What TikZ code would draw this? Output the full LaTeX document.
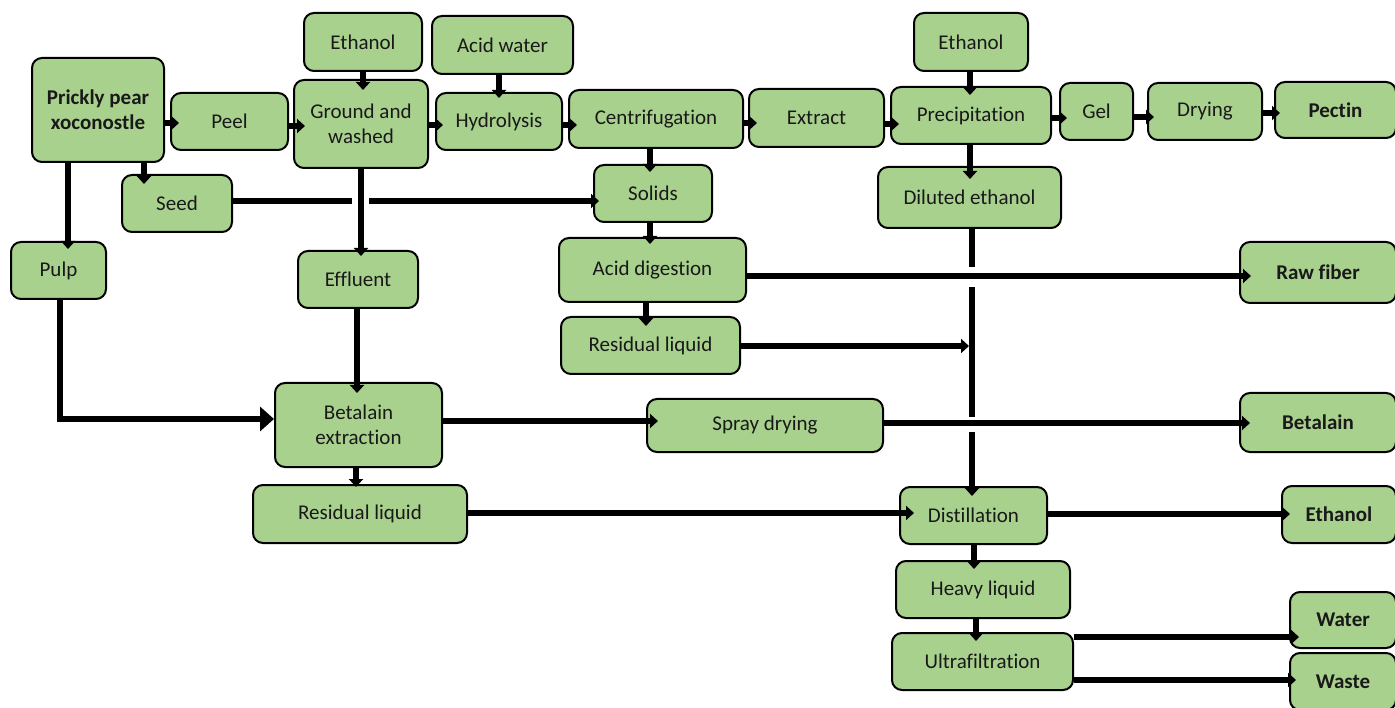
\documentclass[tikz,border=0pt]{standalone}
\usepackage{fontspec}
\setmainfont{Carlito}[Ligatures={NoCommon}]
\usetikzlibrary{arrows.meta}
\definecolor{boxgreen}{HTML}{A9D18E}
\begin{document}
\begin{tikzpicture}[x=1pt,y=-1pt,
  box/.style={draw=black, line width=2pt, fill=boxgreen, rounded corners=10pt, align=center, inner sep=0pt, text=black!90, font=\fontsize{21}{25}\selectfont},
  bbox/.style={box, font=\fontsize{21}{25}\selectfont\bfseries},
  conn/.style={line width=6pt, draw=black},
  arr/.style={conn, -{Triangle[width=14pt,length=8pt]}, shorten >=-9pt},
  bigarr/.style={conn, -{Triangle[width=24pt,length=14pt]}},
]
\useasboundingbox (0,0) rectangle (1395,708);

% nodes
\node[bbox, minimum width=132pt, minimum height=104pt] (pp) at (98,110) {Prickly pear\\xoconostle};
\node[box, minimum width=117pt, minimum height=57pt] (peel) at (229.5,121.5) {Peel};
\node[box, minimum width=134pt, minimum height=88pt] (gw) at (361,124) {Ground and\\washed};
\node[box, minimum width=118pt, minimum height=58pt] (eth1) at (363,42) {Ethanol};
\node[box, minimum width=141pt, minimum height=58pt] (acid) at (502.5,45) {Acid water};
\node[box, minimum width=126pt, minimum height=57pt] (hyd) at (499,121.5) {Hydrolysis};
\node[box, minimum width=174pt, minimum height=58pt] (cen) at (656,119) {Centrifugation};
\node[box, minimum width=135pt, minimum height=58pt] (ext) at (816.5,118) {Extract};
\node[box, minimum width=160pt, minimum height=57pt] (pre) at (971,115.5) {Precipitation};
\node[box, minimum width=114pt, minimum height=58pt] (eth2) at (971,42) {Ethanol};
\node[box, minimum width=73pt, minimum height=57pt] (gel) at (1096.5,111.5) {Gel};
\node[box, minimum width=114pt, minimum height=57pt] (dry) at (1205,111.5) {Drying};
\node[bbox, minimum width=121pt, minimum height=56pt] (pectin) at (1335.5,110) {Pectin};
\node[box, minimum width=183pt, minimum height=61pt] (dil) at (969.5,197.5) {Diluted ethanol};
\node[box, minimum width=110pt, minimum height=57pt] (seed) at (177,203.5) {Seed};
\node[box, minimum width=118pt, minimum height=57pt] (solids) at (653,193.5) {Solids};
\node[box, minimum width=95pt, minimum height=57pt] (pulp) at (58.5,270.5) {Pulp};
\node[box, minimum width=120pt, minimum height=57pt] (eff) at (358,279.5) {Effluent};
\node[box, minimum width=187pt, minimum height=64pt] (acd) at (652.5,270) {Acid digestion};
\node[bbox, minimum width=156pt, minimum height=61pt] (raw) at (1318,272.5) {Raw fiber};
\node[box, minimum width=179pt, minimum height=57pt] (res1) at (650.5,345.5) {Residual liquid};
\node[box, minimum width=167pt, minimum height=84pt] (bext) at (358.5,425) {Betalain\\extraction};
\node[box, minimum width=236pt, minimum height=53pt] (spray) at (765,425.5) {Spray drying};
\node[bbox, minimum width=156pt, minimum height=59pt] (bet) at (1318,422.5) {Betalain};
\node[box, minimum width=214pt, minimum height=58pt] (res2) at (360,514) {Residual liquid};
\node[box, minimum width=147pt, minimum height=57pt] (dist) at (973.5,515.5) {Distillation};
\node[bbox, minimum width=114pt, minimum height=57pt] (eth3) at (1339,514.5) {Ethanol};
\node[box, minimum width=174pt, minimum height=57pt] (heavy) at (983,589.5) {Heavy liquid};
\node[box, minimum width=181pt, minimum height=57pt] (ultra) at (982.5,661.5) {Ultrafiltration};
\node[bbox, minimum width=106pt, minimum height=56pt] (water) at (1343,620) {Water};
\node[bbox, minimum width=106pt, minimum height=57pt] (waste) at (1343,681.5) {Waste};

% top row
\draw[arr] (pp.east |- 0,123) -- (peel.west |- 0,123);
\draw[arr, shorten >=-12pt] (peel.east |- 0,126) -- (gw.west |- 0,126);
\draw[arr, shorten >=-8pt] (gw.east |- 0,125) -- (hyd.west |- 0,125);
\draw[arr] (hyd.east |- 0,125) -- (cen.west |- 0,125);
\draw[arr] (cen.east |- 0,123) -- (ext.west |- 0,123);
\draw[arr] (ext.east |- 0,124) -- (pre.west |- 0,124);
\draw[arr, shorten >=-8pt] (pre.east |- 0,118) -- (gel.west |- 0,118);
\draw[arr, shorten >=-7pt] (gel.east |- 0,117) -- (dry.west |- 0,117);
\draw[arr, shorten >=-6pt] (dry.east |- 0,113) -- (pectin.west |- 0,113);

% verticals
\draw[arr, shorten >=-11pt] (eth1.south -| 363,0) -- (gw.north -| 363,0);
\draw[arr, shorten >=-6pt] (acid.south -| 499,0) -- (hyd.north -| 499,0);
\draw[arr] (eth2.south -| 970,0) -- (pre.north -| 970,0);
\draw[arr, shorten >=-8pt] (cen.south -| 650,0) -- (solids.north -| 650,0);
\draw[arr, shorten >=-13pt] (pre.south -| 970,0) -- (dil.north -| 970,0);
\draw[arr, shorten >=-10pt] (pp.south -| 144,0) -- (seed.north -| 144,0);
\draw[arr, shorten >=-8pt] (pp.south -| 68,0) -- (pulp.north -| 68,0);

% seed line crossing the effluent line
\coordinate (g1) at (352,201);
\coordinate (g2) at (369,201);
\draw[conn] (seed.east |- g1) -- (g1);
\draw[arr, shorten >=-6pt] (g2) -- (solids.west |- g2);
\draw[arr, shorten >=-6pt] (gw.south -| 361,0) -- (eff.north -| 361,0);

\draw[arr, shorten >=-7pt] (solids.south -| 650,0) -- (acd.north -| 650,0);
\draw[arr, shorten >=-10pt] (acd.south -| 646,0) -- (res1.north -| 646,0);
\draw[arr, shorten >=-12pt] (acd.east |- 0,276) -- (raw.west |- 0,276);

% diluted ethanol line with gaps
\coordinate (v1) at (972,267);
\coordinate (v2) at (972,287);
\coordinate (v3) at (972,417);
\coordinate (v4) at (972,432);
\coordinate (j1) at (969,346);
\draw[conn] (dil.south -| v1) -- (v1);
\draw[conn] (v2) -- (v3);
\draw[arr, shorten >=-10pt] (v4) -- (dist.north -| v4);
\draw[arr, shorten >=0pt] (res1.east |- j1) -- (j1);

% betalain part
\draw[bigarr] (pulp.south -| 60,0) |- (bext.west |- 0,419);
\draw[arr, shorten >=-11pt] (eff.south -| 357,0) -- (bext.north -| 357,0);
\draw[arr, shorten >=-12pt] (bext.east |- 0,421) -- (spray.west |- 0,421);
\draw[arr, shorten >=-3pt] (bext.south -| 356,0) -- (res2.north -| 356,0);
\draw[arr, shorten >=-11pt] (spray.east |- 0,423) -- (bet.west |- 0,423);
\draw[arr, shorten >=-15pt] (res2.east |- 0,513) -- (dist.west |- 0,513);
\draw[arr] (dist.east |- 0,514) -- (eth3.west |- 0,514);
\draw[arr] (dist.south -| 974,0) -- (heavy.north -| 974,0);
\draw[arr] (heavy.south -| 976,0) -- (ultra.north -| 976,0);
\draw[arr, shorten >=-10pt] (ultra.east |- 0,637) -- (water.west |- 0,637);
\draw[arr, shorten >=-7pt] (ultra.east |- 0,680) -- (waste.west |- 0,680);
\end{tikzpicture}
\end{document}
